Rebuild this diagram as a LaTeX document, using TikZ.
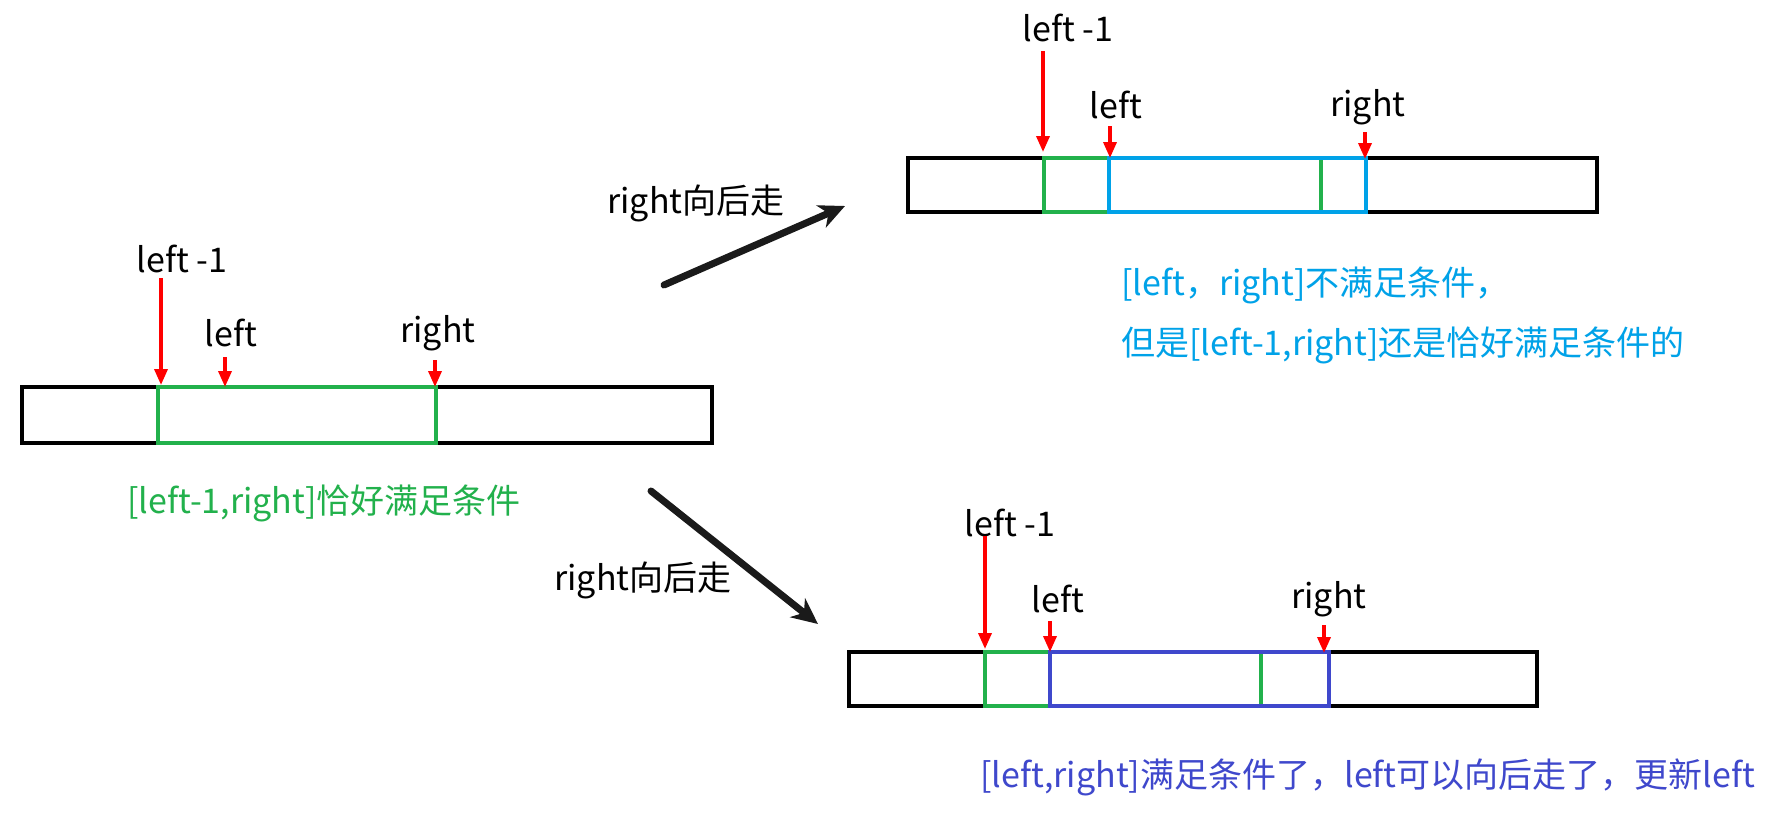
\documentclass[tikz,border=0pt]{standalone}
\usepackage{fontspec}
\setmainfont{Noto Sans CJK SC}
\usetikzlibrary{arrows.meta}
\definecolor{cgreen}{HTML}{22B14C}
\definecolor{ccyan}{HTML}{00A2E8}
\definecolor{cblue}{HTML}{3F48CC}
\definecolor{cred}{HTML}{FF0000}
\definecolor{cblack}{HTML}{1A1A1A}
\tikzset{
  bar/.style={draw=black,line width=3.5pt},
  grbox/.style={draw=cgreen,line width=4.5pt},
  cybox/.style={draw=ccyan,line width=4.5pt},
  blbox/.style={draw=cblue,line width=4.5pt},
  ptr/.style={draw=cred,line width=3.5pt,-{Triangle[length=16pt,width=13pt]}},
  move/.style={draw=cblack,line width=7pt,line cap=round,-{Stealth[length=26pt,width=24pt,inset=8pt]}},
  lbl/.style={inner sep=0pt,font=\fontsize{34}{40}\selectfont},
  txt/.style={inner sep=0pt,anchor=west,font=\fontsize{34}{40}\selectfont},
}
\begin{document}
\begin{tikzpicture}[x=1pt,y=-1pt]
\useasboundingbox[fill=white] (0,0) rectangle (1766,827);

% ---- left bar ----
\draw[bar] (22,387) rectangle (712,443);
\draw[grbox] (158,387) rectangle (436,443);
\node[lbl] (A1) at (182,259) {left -1};
\node[lbl] (A2) at (231,333) {left};
\node[lbl] (A3) at (438,333) {right};
\coordinate (a1s) at (161,278); \coordinate (a1e) at (161,385);
\coordinate (a2s) at (225,357); \coordinate (a2e) at (225,387);
\coordinate (a3s) at (435,360); \coordinate (a3e) at (435,387);
\draw[ptr] (a1s) -- (a1e);
\draw[ptr] (a2s) -- (a2e);
\draw[ptr] (a3s) -- (a3e);
\node[txt,text=cgreen] (AT) at (127,503) {[left-1,right]恰好满足条件};

% ---- top bar ----
\draw[bar] (908,158) rectangle (1597,212);
\draw[grbox] (1044,158) rectangle (1321,212);
\draw[cybox] (1109,158) rectangle (1366,212);
\node[lbl] (B1) at (1068,28) {left -1};
\node[lbl] (B2) at (1116,105) {left};
\node[lbl] (B3) at (1368,107) {right};
\coordinate (b1s) at (1043,51); \coordinate (b1e) at (1043,152);
\coordinate (b2s) at (1110,126); \coordinate (b2e) at (1110,158);
\coordinate (b3s) at (1365,132); \coordinate (b3e) at (1365,159);
\draw[ptr] (b1s) -- (b1e);
\draw[ptr] (b2s) -- (b2e);
\draw[ptr] (b3s) -- (b3e);
\node[txt,text=ccyan] (BT1) at (1121,285) {[left，right]不满足条件，};
\node[txt,text=ccyan] (BT2) at (1121,345) {但是[left-1,right]还是恰好满足条件的};

% ---- bottom bar ----
\draw[bar] (849,652) rectangle (1537,706);
\draw[grbox] (985,652) rectangle (1261,706);
\draw[blbox] (1050,652) rectangle (1329,706);
\node[lbl] (C1) at (1010,523) {left -1};
\node[lbl] (C2) at (1058,599) {left};
\node[lbl] (C3) at (1329,599) {right};
\coordinate (c1s) at (985,536); \coordinate (c1e) at (985,649);
\coordinate (c2s) at (1050,621); \coordinate (c2e) at (1050,652);
\coordinate (c3s) at (1324,625); \coordinate (c3e) at (1324,653);
\draw[ptr] (c1s) -- (c1e);
\draw[ptr] (c2s) -- (c2e);
\draw[ptr] (c3s) -- (c3e);
\node[txt,text=cblue] (CT) at (980,777) {[left,right]满足条件了，left可以向后走了，更新left};

% ---- transitions ----
\node[lbl] (M1) at (696,203) {right向后走};
\node[lbl] (M2) at (643,580) {right向后走};
\coordinate (m1s) at (664,285); \coordinate (m1e) at (845,206);
\coordinate (m2s) at (651,491); \coordinate (m2e) at (818,624);
\draw[move] (m1s) -- (m1e);
\draw[move] (m2s) -- (m2e);
\end{tikzpicture}
\end{document}
